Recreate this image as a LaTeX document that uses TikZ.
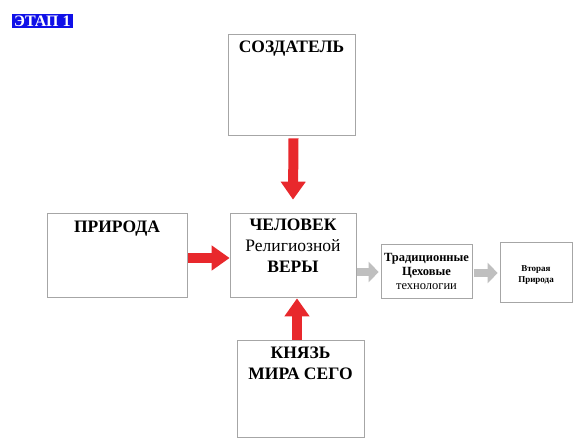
\documentclass[tikz,border=0pt]{standalone}
\usepackage{fontspec}
\setmainfont{Liberation Serif}
\usetikzlibrary{positioning,calc,arrows.meta}

\definecolor{arrred}{HTML}{E8282C}
\definecolor{stageblue}{HTML}{1010E8}

\tikzset{
    block/.style={draw=gray!70, line width=0.7pt, fill=white, inner sep=0pt},
    bigtext/.style={font=\fontsize{17.5}{21}\selectfont\bfseries, align=center},
    redarrow/.style={draw=arrred, line width=10pt, -{Triangle[length=18pt,width=24pt]}},
    grayarrow/.style={draw=gray!50, line width=8pt, -{Triangle[length=10pt,width=20pt]}}
}

\begin{document}
\begin{tikzpicture}[x=1pt, y=-1pt]
    \useasboundingbox (0,0) rectangle (573,441);

    % stage label
    \node[fill=stageblue, text=white, inner xsep=2pt, inner ysep=1.5pt, font=\fontsize{16}{17}\selectfont\bfseries, anchor=west] (stage) at (12,21) {ЭТАП 1};

    % boxes
    \node[block, minimum width=127pt, minimum height=101pt] (creator) at (291.5,84.5) {};
    \node[block, minimum width=126pt, minimum height=84pt] (man) at (293,255) {};
    \node[block, minimum width=140pt, minimum height=84pt] (nature) at (117,255) {};
    \node[block, minimum width=127pt, minimum height=97pt] (prince) at (300.5,388.5) {};
    \node[block, minimum width=91pt, minimum height=54pt] (tech) at (426.5,271) {};
    \node[block, minimum width=72pt, minimum height=60pt] (second) at (536,272) {};

    % texts
    \node[bigtext, anchor=north] (creatorT) at ($(creator.north)+(0,4)$) {СОЗДАТЕЛЬ};
    \node[bigtext, anchor=north] (natureT) at ($(nature.north)+(0,5)$) {ПРИРОДА};
    \node[bigtext, anchor=north] (manT) at ($(man.north)+(0,3)$)
        {ЧЕЛОВЕК\\{\mdseries Религиозной}\\ВЕРЫ};
    \node[bigtext, anchor=north] (princeT) at ($(prince.north)+(0,4)$) {КНЯЗЬ\\МИРА СЕГО};
    \node[font=\fontsize{12.5}{14}\selectfont, align=center] (techT) at (tech.center)
        {\textbf{Традиционные}\\\textbf{Цеховые}\\технологии};
    \node[font=\fontsize{9}{11}\selectfont\bfseries, align=center] (secondT) at ($(second.center)+(0,3)$)
        {Вторая\\Природа};

    % arrows
    \draw[redarrow] ($(creator.south)+(2,3)$) -- ($(man.north)+(0,-13)$);
    \draw[redarrow] ($(nature.east)+(1,3)$) -- ($(man.west)+(0,3)$);
    \draw[redarrow] ($(prince.north)+(-3.5,0)$) -- ($(man.south)+(4,1)$);
    \draw[grayarrow] ($(man.east)+(1,17)$) -- ($(tech.west)+(-2,1)$);
    \draw[grayarrow] ($(tech.east)+(2,2)$) -- ($(second.west)+(-2,1)$);
\end{tikzpicture}
\end{document}
